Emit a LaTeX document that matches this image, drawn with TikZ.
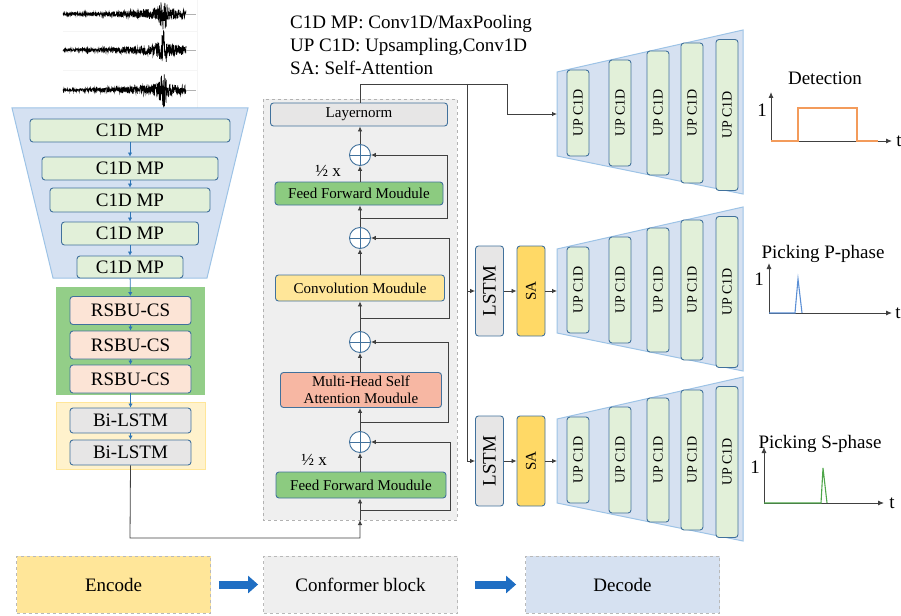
\documentclass[tikz,border=0pt]{standalone}
\usepackage{fontspec}
\usepackage{graphicx}
\setmainfont{Liberation Serif}
\usetikzlibrary{arrows.meta}
\definecolor{trapfill}{HTML}{D5E1F2}
\definecolor{trapline}{HTML}{9DC3E6}
\definecolor{boxline}{HTML}{41719C}
\definecolor{c1dfill}{HTML}{E2F0D9}
\definecolor{rsbuzone}{HTML}{93CE88}
\definecolor{rsbufill}{HTML}{FCE4D6}
\definecolor{lstmzone}{HTML}{FFF2CC}
\definecolor{lstmzoneline}{HTML}{FFE699}
\definecolor{grayfill}{HTML}{E7E6E6}
\definecolor{confzone}{HTML}{EFEFEF}
\definecolor{ffgreen}{HTML}{8CCB80}
\definecolor{convfill}{HTML}{FFE699}
\definecolor{mhsafill}{HTML}{F7B7A3}
\definecolor{safill}{HTML}{FFD966}
\definecolor{smallblue}{HTML}{2E75B6}
\definecolor{bigblue}{HTML}{1F6EC3}
\definecolor{detorange}{HTML}{F39B5B}
\definecolor{pblue}{HTML}{5B8FD5}
\definecolor{sgreen}{HTML}{4EA64A}
\definecolor{decfill}{HTML}{D6E1F1}
\tikzset{
  rbox/.style={draw=boxline, line width=0.9pt, rounded corners=3pt, inner sep=0pt, align=center},
  bigfont/.style={font=\fontsize{19}{21}\selectfont},
  c1d/.style={rbox, fill=c1dfill, bigfont},
  rsbu/.style={rbox, fill=rsbufill, bigfont, minimum width=121pt, minimum height=28pt},
  bilstm/.style={rbox, fill=grayfill, bigfont, minimum width=121pt, minimum height=25pt},
  cbox/.style={rbox, font=\fontsize{15}{17}\selectfont},
  upc/.style={rbox, fill=c1dfill, minimum width=22pt, font=\fontsize{14}{16}\selectfont},
  vbox/.style={rbox, minimum width=28pt, minimum height=90pt},
  plus/.style={circle, draw=boxline, fill=white, minimum size=21pt, inner sep=0pt, line width=0.9pt,
    path picture={\draw[draw=boxline,line width=0.9pt] (path picture bounding box.north) -- (path picture bounding box.south) (path picture bounding box.west) -- (path picture bounding box.east);}},
  blk/.style={draw=black!75, line width=0.8pt},
  blkarr/.style={blk, -{Latex[length=5pt,width=4.5pt]}},
  bluearr/.style={draw=smallblue, line width=0.8pt, -{Latex[length=4pt,width=4.5pt]}},
  axarr/.style={draw=black!75, line width=0.9pt, -{Latex[length=6pt,width=5pt]}},
  bot/.style={draw=gray!55, dashed, line width=0.8pt, minimum width=194pt, minimum height=57pt, bigfont},
  bigarr/.style={draw=bigblue, line width=8pt, -{Triangle[length=10pt,width=17pt]}},
  lbl/.style={bigfont, inner sep=0pt},
  half/.style={font=\fontsize{17}{19}\selectfont, inner sep=0pt}
}
\begin{document}
\begin{tikzpicture}[x=1pt,y=-1pt,
  declare function={env(\x)=((\x<164) ? (1.4+5*((\x-63)/101)^2) : (6.5-2*(\x-164)/22)) + 12*exp(max(-9,-((\x-164)/2.5)^2)) + 4*exp(max(-9,-((\x-161)/5)^2));}]
\useasboundingbox (0,0) rectangle (901,615);

% waveforms
\pgfmathsetseed{7}
\draw[gray!8, line width=0.6pt] (63,31) -- (197,31) (63,70) -- (197,70) (197,0) -- (197,108);
\foreach \yc in {14,50,90}{
  \draw[black, line width=0.6pt] plot[domain=63:186, samples=600] (\x,{\yc+env(\x)*rand});
  \draw[gray!60, line width=0.5pt] (186,\yc) -- (196,\yc);
}

% encoder
\path[draw=trapline, fill=trapfill, line width=1pt] (12,108) -- (248,108) -- (207,278) -- (53,278) -- cycle;
\node[c1d, minimum width=200pt, minimum height=23pt] (e1) at (130,130.5) {C1D MP};
\node[c1d, minimum width=176pt, minimum height=23pt] (e2) at (130,168.5) {C1D MP};
\node[c1d, minimum width=160pt, minimum height=24pt] (e3) at (130,200) {C1D MP};
\node[c1d, minimum width=137pt, minimum height=23pt] (e4) at (130,233.5) {C1D MP};
\node[c1d, minimum width=106pt, minimum height=22pt] (e5) at (130,267) {C1D MP};

\path[fill=rsbuzone] (56,287) rectangle (205,395);
\node[rsbu] (r1) at (130.5,310.5) {RSBU-CS};
\node[rsbu] (r2) at (130.5,345) {RSBU-CS};
\node[rsbu] (r3) at (130.5,379) {RSBU-CS};

\path[fill=lstmzone, draw=lstmzoneline, line width=1pt] (56,402) rectangle (205,469);
\node[bilstm] (b1) at (130.5,420.5) {Bi-LSTM};
\node[bilstm] (b2) at (130.5,452.5) {Bi-LSTM};

\draw[bluearr] (e1) -- (e2);
\draw[bluearr] (e2) -- (e3);
\draw[bluearr] (e3) -- (e4);
\draw[bluearr] (e4) -- (e5);
\draw[bluearr] (e5) -- (r1);
\draw[bluearr] (r1) -- (r2);
\draw[bluearr] (r2) -- (r3);
\draw[bluearr] (r3) -- (b1);
\draw[bluearr] (b1) -- (b2);

% legend
\node[lbl, anchor=base west] (leg1) at (290,29) {C1D MP: Conv1D/MaxPooling};
\node[lbl, anchor=base west] (leg2) at (290,52) {UP C1D: Upsampling,Conv1D};
\node[lbl, anchor=base west] (leg3) at (290,75) {SA: Self-Attention};

% conformer
\path[fill=confzone, draw=gray!60, dashed, line width=0.8pt] (263,99) rectangle (457,520);
\node[cbox, fill=grayfill, minimum width=177pt, minimum height=23pt] (ln) at (359,114.5) {Layernorm};
\node[plus] (c1) at (360,155) {};
\node[cbox, fill=ffgreen, minimum width=168pt, minimum height=23pt] (ff1) at (359,193.5) {Feed Forward Moudule};
\node[plus] (c2) at (360,238) {};
\node[cbox, fill=convfill, minimum width=169pt, minimum height=26pt] (conv) at (360,288) {Convolution Moudule};
\node[plus] (c3) at (360,342) {};
\node[cbox, fill=mhsafill, minimum width=161pt, minimum height=35pt, font=\fontsize{15}{17.5}\selectfont] (mhsa) at (361,390) {Multi-Head Self\\Attention Moudule};
\node[plus] (c4) at (360,442) {};
\node[cbox, fill=ffgreen, minimum width=170pt, minimum height=26pt] (ff2) at (361,485) {Feed Forward Moudule};
\node[half] (h1) at (328,171) {½ x};
\node[half] (h2) at (314,460) {½ x};

\draw[blkarr] (ff2.north -| c4) -- (c4.south);
\draw[blkarr] (c4.north) -- (mhsa.south -| c4);
\draw[blkarr] (mhsa.north -| c3) -- (c3.south);
\draw[blkarr] (c3.north) -- (conv.south -| c3);
\draw[blkarr] (conv.north -| c2) -- (c2.south);
\draw[blkarr] (c2.north) -- (ff1.south -| c2);
\draw[blkarr] (ff1.north -| c1) -- (c1.south);
\draw[blkarr] (c1.north) -- (ln.south -| c1);

\coordinate (r1s) at (360,218);
\coordinate (r2s) at (360,318);
\coordinate (r3s) at (360,422);
\coordinate (r4s) at (360,510);
\draw[blkarr] (r1s) -- ++(87,0) |- (c1.east);
\draw[blkarr] (r2s) -- ++(89,0) |- (c2.east);
\draw[blkarr] (r3s) -- ++(88,0) |- (c3.east);
\draw[blkarr] (r4s) -- ++(90,0) |- (c4.east);

% input from encoder
\coordinate (bend) at (130,538);
\coordinate (confin) at (360,520);
\draw[blkarr] (b2.south) -- (bend) -| (confin);
\draw[blkarr] (confin) -- (ff2.south -| confin);

% decoders
\foreach \dy/\k in {0/1,177/2,347/3}{
  \path[draw=trapline, fill=decfill, line width=1pt] (557,72+\dy) -- (743,30+\dy) -- (743,194+\dy) -- (557,156+\dy) -- cycle;
  \foreach \j/\xc/\yc/\h in {1/578/113/86,2/620/113/106,3/658/113/124,4/692/113/140,5/727/115/151}{
    \node[upc, minimum height=\h pt] (d\k-\j) at (\xc,\yc+\dy) {\rotatebox{90}{UP C1D}};
  }
  \coordinate (din\k) at (557,114+\dy);
}
\node[vbox, fill=grayfill, bigfont] (lstm1) at (489.5,291) {\rotatebox{90}{LSTM}};
\node[vbox, fill=safill, font=\fontsize{15}{17}\selectfont] (sa1) at (531,291) {\rotatebox{90}{SA}};
\node[vbox, fill=grayfill, bigfont] (lstm2) at (489.5,461) {\rotatebox{90}{LSTM}};
\node[vbox, fill=safill, font=\fontsize{15}{17}\selectfont] (sa2) at (531,461) {\rotatebox{90}{SA}};

\coordinate (tl) at (360,84);
\coordinate (tr) at (507,84);
\coordinate (br) at (467,84);
\coordinate (j2) at (467,291);
\coordinate (j3) at (467,461);
\draw[blk] (ln.north -| tl) -- (tl) -- (tr);
\draw[blkarr] (tr) |- (din1);
\draw[blk] (br) -- (j3);
\draw[blkarr] (j2) -- (lstm1.west);
\draw[blkarr] (j3) -- (lstm2.west);
\draw[blkarr] (lstm1) -- (sa1);
\draw[blkarr] (sa1) -- (din2);
\draw[blkarr] (lstm2) -- (sa2);
\draw[blkarr] (sa2) -- (din3);

% output plots
\node[lbl, anchor=base] (dett) at (825,85) {Detection};
\coordinate (o1) at (771,141);
\draw[axarr] (o1) -- ++(0,-49);
\draw[axarr] (o1) -- ++(121,0);
\draw[detorange, line width=1.1pt] (o1) -- ++(27,0) -- ++(0,-33) -- ++(59,0) -- ++(0,33) -- ++(21,0);
\node[lbl] (one1) at (762,110) {1};
\node[lbl] (t1) at (899,141) {t};

\node[lbl, anchor=base] (pt) at (823,258) {Picking P-phase};
\coordinate (o2) at (769,313);
\draw[axarr] (o2) -- ++(0,-50);
\draw[axarr] (o2) -- ++(123,0);
\draw[pblue, line width=1.1pt] (o2) -- ++(26,0) -- ++(3,-34) -- ++(4,34);
\node[lbl] (one2) at (759,279) {1};
\node[lbl] (t2) at (898,313) {t};

\node[lbl, anchor=base] (st) at (820,448) {Picking S-phase};
\coordinate (o3) at (764,503);
\draw[axarr] (o3) -- ++(0,-56);
\draw[axarr] (o3) -- ++(120,0);
\draw[sgreen, line width=1.1pt] (o3) -- ++(57,0) -- ++(2,-35) -- ++(4,35);
\node[lbl] (one3) at (755,467) {1};
\node[lbl] (t3) at (892,503) {t};

% bottom legend
\node[bot, fill=convfill] (enc) at (113.5,584.5) {Encode};
\node[bot, fill=confzone] (conf) at (360.5,584.5) {Conformer block};
\node[bot, fill=decfill] (dec) at (622.5,584.5) {Decode};
\draw[bigarr, shorten <=8pt, shorten >=5pt] (enc) -- (conf);
\draw[bigarr, shorten <=17pt, shorten >=9pt] (conf) -- (dec);
\end{tikzpicture}
\end{document}
